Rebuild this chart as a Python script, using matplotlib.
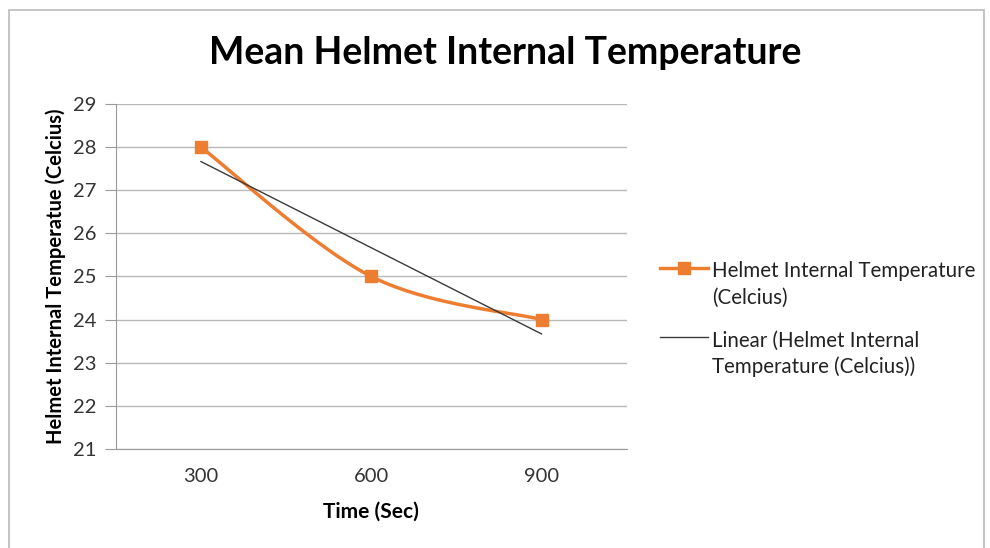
import numpy as np
import matplotlib
matplotlib.use("Agg")
import matplotlib.pyplot as plt
from matplotlib.lines import Line2D
from matplotlib.patches import Rectangle

# Данные графика
times = ["300", "600", "900"]
temps = [28, 25, 24]
y_ticks = [21, 22, 23, 24, 25, 26, 27, 28, 29]
legend_labels = ["Helmet Internal Temperature\n(Celcius)",
                 "Linear (Helmet Internal\nTemperature (Celcius))"]

orange = "#ED7D31"
trend_color = "#3a3a3a"
plt.rcParams['font.family'] = ['Lato', 'DejaVu Sans']


def smooth(xs, ys, steps=40):
    '''
    Сглаженная линия как в Excel (кривые Безье по соседним точкам)
    '''
    xs = np.asarray(xs, float)
    ys = np.asarray(ys, float)
    px = np.concatenate([[xs[0]], xs, [xs[-1]]])
    py = np.concatenate([[ys[0]], ys, [ys[-1]]])
    out_x, out_y = [], []
    t = np.linspace(0, 1, steps)
    for i in range(1, len(px) - 2):
        p0 = np.array([px[i], py[i]])
        p3 = np.array([px[i + 1], py[i + 1]])
        p1 = p0 + (p3 - np.array([px[i - 1], py[i - 1]])) / 6
        p2 = p3 - (np.array([px[i + 2], py[i + 2]]) - p0) / 6
        b = ((1 - t) ** 3)[:, None] * p0 + (3 * (1 - t) ** 2 * t)[:, None] * p1 \
            + (3 * (1 - t) * t ** 2)[:, None] * p2 + (t ** 3)[:, None] * p3
        out_x.extend(b[:, 0])
        out_y.extend(b[:, 1])
    return out_x, out_y


fig = plt.figure(figsize=(9.9, 5.48), dpi=100)
ax = fig.add_axes([0.117, 0.181, 0.516, 0.629])

x = np.arange(len(times))
sx, sy = smooth(x, temps)
ax.plot(sx, sy, color=orange, lw=2.5, zorder=3)
ax.plot(x, temps, ls="none", marker="s", ms=8, color=orange, zorder=4)

# Линейный тренд
k, b = np.polyfit(x, temps, 1)
ax.plot(x, k * x + b, color=trend_color, lw=1, zorder=5)

ax.set_xlim(-0.5, len(times) - 0.5)
ax.set_ylim(21, 29)
ax.set_yticks(y_ticks)
ax.set_xticks(x)
ax.set_xticklabels(times)
ax.grid(axis="y", color="#B8B8B8", lw=1)
ax.set_axisbelow(True)
for s in ["top", "right"]:
    ax.spines[s].set_visible(False)
ax.spines["left"].set_color("#9a9a9a")
ax.spines["bottom"].set_color("#9a9a9a")
ax.tick_params(axis="y", length=8, color="#9a9a9a", labelsize=14.5, labelcolor="#333333", pad=6)
ax.tick_params(axis="x", length=0, labelsize=14.5, labelcolor="#333333", pad=14)

ax.set_xlabel("Time (Sec)", fontsize=15, fontweight="bold", labelpad=12)
ax.set_ylabel("Helmet Internal Temperatue (Celcius)", fontsize=14.5, fontweight="bold", labelpad=5)

fig.text(0.51, 0.903, "Mean Helmet Internal Temperature", ha="center", va="center",
         fontsize=27, fontweight="bold")

# Легенда вручную: значок на уровне первой строки подписи
handles = [dict(color=orange, lw=2.5, marker="s", ms=8, markevery=[1]),
           dict(color=trend_color, lw=1)]
first_line_y = [0.511, 0.385]
for style, y0, label in zip(handles, first_line_y, legend_labels):
    fig.add_artist(Line2D([0.667, 0.691, 0.715], [y0, y0, y0], transform=fig.transFigure, **style))
    fig.text(0.719, y0 + 0.012, label, ha="left", va="top", fontsize=14.8,
             linespacing=1.38, color="#222222")

# Рамка вокруг диаграммы
fig.patches.append(Rectangle((0.009, -0.01), 0.985, 0.992, transform=fig.transFigure,
                             fill=False, ec="#BBBBBB", lw=1.2))

fig.savefig("out.png", dpi=100)
